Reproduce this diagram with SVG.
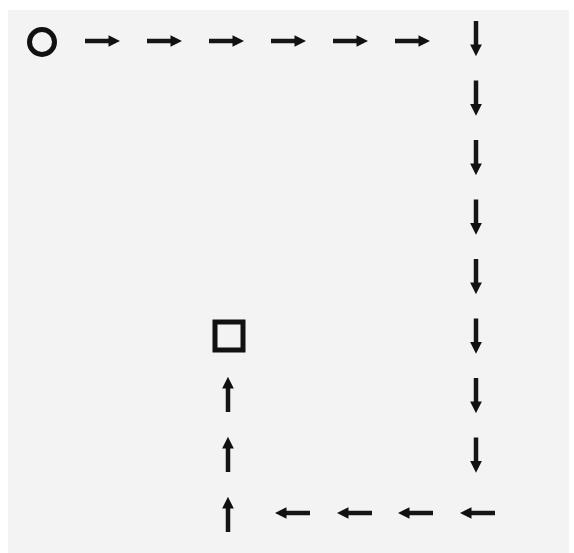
<svg xmlns="http://www.w3.org/2000/svg" xmlns:xlink="http://www.w3.org/1999/xlink" width="574" height="553" viewBox="0 0 574 553">
  <style>
    .bg { fill: #f3f3f3; }
    .node { fill: none; stroke: #111; stroke-width: 5; }
    .shaft { stroke: #151515; stroke-width: 4.5; fill: none; }
  </style>
  <defs>
    <marker id="head" viewBox="0 0 10 10" refX="3" refY="5" markerWidth="2.6" markerHeight="3" orient="auto" markerUnits="strokeWidth">
      <path d="M0,0 L10,5 L0,10 Z" fill="#111"/>
    </marker>
    <path id="arr" d="M0,0 H27" class="shaft" marker-end="url(#head)"/>
  </defs>
  <rect width="574" height="553" fill="#ffffff"/>
  <rect class="bg" x="8" y="10" width="561" height="543"/>

  <g id="start">
    <circle class="node" cx="42" cy="42" r="12.5"/>
  </g>
  <g id="end">
    <rect class="node" x="215" y="322" width="28" height="28"/>
  </g>

  <g id="connectors">
    <use xlink:href="#arr" transform="translate(85,41)"/>
    <use xlink:href="#arr" transform="translate(147,41)"/>
    <use xlink:href="#arr" transform="translate(209,41)"/>
    <use xlink:href="#arr" transform="translate(271,41)"/>
    <use xlink:href="#arr" transform="translate(333,41)"/>
    <use xlink:href="#arr" transform="translate(395,41)"/>

    <use xlink:href="#arr" transform="translate(476,21) rotate(90)"/>
    <use xlink:href="#arr" transform="translate(476,80.5) rotate(90)"/>
    <use xlink:href="#arr" transform="translate(476,140) rotate(90)"/>
    <use xlink:href="#arr" transform="translate(476,199.5) rotate(90)"/>
    <use xlink:href="#arr" transform="translate(476,259) rotate(90)"/>
    <use xlink:href="#arr" transform="translate(476,318.5) rotate(90)"/>
    <use xlink:href="#arr" transform="translate(476,378) rotate(90)"/>
    <use xlink:href="#arr" transform="translate(476,437.5) rotate(90)"/>

    <use xlink:href="#arr" transform="translate(495,513) rotate(180)"/>
    <use xlink:href="#arr" transform="translate(433,513) rotate(180)"/>
    <use xlink:href="#arr" transform="translate(372,513) rotate(180)"/>
    <use xlink:href="#arr" transform="translate(310,513) rotate(180)"/>

    <use xlink:href="#arr" transform="translate(228,532) rotate(-90)"/>
    <use xlink:href="#arr" transform="translate(228,472) rotate(-90)"/>
    <use xlink:href="#arr" transform="translate(228,412) rotate(-90)"/>
  </g>
</svg>
